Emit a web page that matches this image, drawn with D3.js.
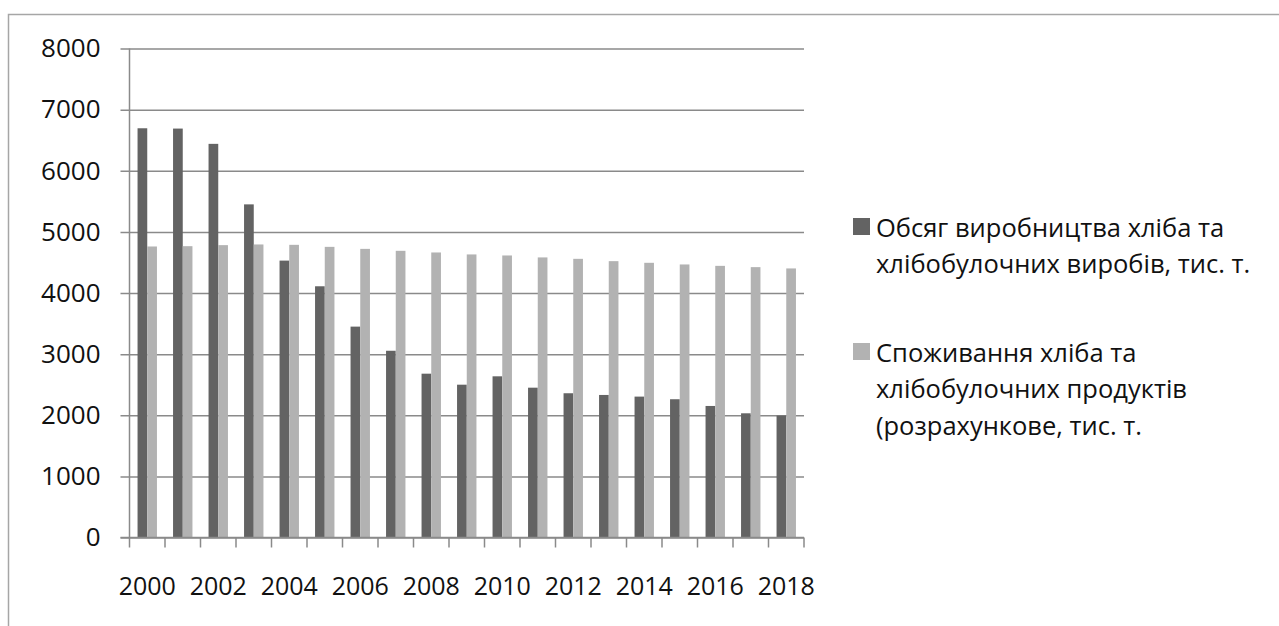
<!doctype html>
<html>

<head>
    <meta charset="utf-8">
    <title>Хліб: виробництво та споживання</title>
    <script src="https://cdnjs.cloudflare.com/ajax/libs/d3/7.8.5/d3.min.js"></script>
    <style>
        body { margin: 0; background: #fff; }
        text { font-family: "Open Sans", sans-serif; fill: #111; }
    </style>
</head>

<body>
    <div id="chart"></div>

    <script>
        // data
        const years = [2000, 2001, 2002, 2003, 2004, 2005, 2006, 2007, 2008, 2009,
                       2010, 2011, 2012, 2013, 2014, 2015, 2016, 2017, 2018];
        const production = [6695, 6690, 6440, 5450, 4530, 4110, 3450, 3055, 2680, 2500,
                            2637, 2451, 2360, 2332, 2305, 2262, 2152, 2032, 1995];
        const consumption = [4761, 4766, 4783, 4794, 4788, 4755, 4722, 4690, 4663, 4631,
                             4614, 4582, 4559, 4521, 4494, 4467, 4444, 4423, 4402];
        const yTicks = [0, 1000, 2000, 3000, 4000, 5000, 6000, 7000, 8000];
        const seriesNames = [
            ["Обсяг виробництва хліба та", "хлібобулочних виробів, тис. т."],
            ["Споживання хліба та", "хлібобулочних продуктів", "(розрахункове, тис. т."]
        ];
        const colors = ["#636363", "#b2b2b2"];

        const width = 1279, height = 626;
        const plotL = 129.5, plotR = 804, plotT = 48.5, plotB = 537.5;

        const svg = d3.select('#chart')
          .append('svg')
          .attr('width', width)
          .attr('height', height);

        // frame (cut off at right and bottom)
        svg.append('path')
          .attr('d', `M8.5,${height} V14.5 H${width}`)
          .attr('fill', 'none')
          .attr('stroke', '#a6a6a6')
          .attr('stroke-width', 1.5);

        const x = d3.scaleBand()
          .domain(years)
          .range([plotL, plotR]);

        const inner = d3.scaleBand()
          .domain([0, 1])
          .range([0, x.bandwidth()])
          .paddingOuter(0.83)
          .paddingInner(0);

        const y = d3.scaleLinear()
          .domain([0, 8000])
          .range([plotB, plotT]);

        // gridlines + y axis labels
        const yAxis = svg.append('g')
          .attr('transform', `translate(${plotL},0)`)
          .call(d3.axisLeft(y)
            .tickValues(yTicks)
            .tickFormat(d3.format('d'))
            .tickSize(-(plotR - plotL))
            .tickSizeOuter(0));
        yAxis.select('.domain').remove();
        yAxis.selectAll('.tick line')
          .attr('x1', -9)
          .attr('stroke', '#8a8a8a')
          .attr('stroke-width', 1.5);
        yAxis.selectAll('.tick text')
          .attr('x', -29)
          .style('font-size', '26px')
          .style('font-family', '"Open Sans", sans-serif')
          .attr('fill', '#111');

        // bars
        const series = [production, consumption];
        series.forEach((vals, s) => {
            svg.append('g')
              .selectAll('rect')
              .data(vals)
              .join('rect')
              .attr('x', (d, i) => x(years[i]) + inner(s))
              .attr('y', d => y(d))
              .attr('width', inner.bandwidth())
              .attr('height', d => y(0) - y(d))
              .attr('fill', colors[s]);
        });

        // y axis line
        svg.append('line')
          .attr('x1', plotL).attr('x2', plotL)
          .attr('y1', plotT).attr('y2', plotB)
          .attr('stroke', '#8a8a8a')
          .attr('stroke-width', 1.5);

        // x axis line with ticks at category boundaries
        svg.append('line')
          .attr('x1', plotL - 9).attr('x2', plotR)
          .attr('y1', plotB).attr('y2', plotB)
          .attr('stroke', '#8a8a8a')
          .attr('stroke-width', 1.5);

        const bounds = years.map(d => x(d)).concat([plotR]);
        svg.append('g')
          .selectAll('line')
          .data(bounds)
          .join('line')
          .attr('x1', d => d).attr('x2', d => d)
          .attr('y1', plotB).attr('y2', plotB + 10)
          .attr('stroke', '#8a8a8a')
          .attr('stroke-width', 1.5);

        // x labels, every second year
        svg.append('g')
          .selectAll('text')
          .data(years.filter((d, i) => i % 2 === 0))
          .join('text')
          .attr('x', d => x(d) + x.bandwidth() / 2)
          .attr('y', 585)
          .attr('text-anchor', 'middle')
          .attr('dominant-baseline', 'central')
          .style('font-size', '25px')
          .text(d => d);

        // legend
        const legendY = [218, 343];
        const legend = svg.append('g');
        seriesNames.forEach((lines, s) => {
            legend.append('rect')
              .attr('x', 853)
              .attr('y', legendY[s])
              .attr('width', 17)
              .attr('height', 17)
              .attr('fill', colors[s]);
            legend.append('g')
              .selectAll('text')
              .data(lines)
              .join('text')
              .attr('x', 876)
              .attr('y', (d, i) => legendY[s] + 8.5 + i * 36.5)
              .attr('dominant-baseline', 'central')
              .style('font-size', '25.5px')
              .text(d => d);
        });
    </script>
</body>

</html>
